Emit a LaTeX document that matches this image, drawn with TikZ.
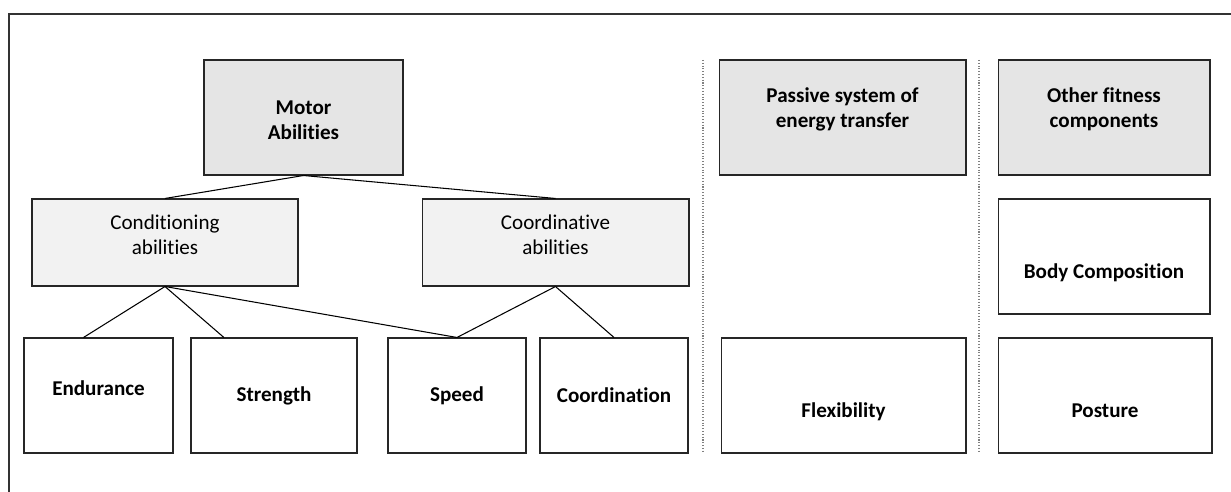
\documentclass[tikz,border=0pt]{standalone}
\usepackage{fontspec}
\setmainfont{Carlito}[Ligatures=NoCommon]
\usepackage{tikz}
\usetikzlibrary{calc}

\begin{document}
\begin{tikzpicture}[x=0.02cm,y=-0.02cm,line width=0.6pt,
  box/.style={draw=black!85, inner sep=0pt, align=center, font=\fontsize{12}{14.4}\selectfont\bfseries},
  tall/.style={box, minimum height=2.3cm},
  head/.style={tall, fill=gray!20},
  sub/.style={box, fill=gray!10, minimum height=1.74cm, font=\fontsize{12}{14.4}\selectfont},
  low/.style={text height=25pt, text depth=0pt},
  flat/.style={text height=0pt, text depth=0pt},
  lift/.style={text height=23pt, text depth=#1}]
\useasboundingbox (0,0) rectangle (1231,492);
\draw[black!80] (9,492) -- (9,14) -- (1231,14);

  \node[head, minimum width=3.98cm, low]     (MA) at (303.5,117.5) {Motor\\Abilities};
  \node[sub, minimum width=5.32cm, lift=8.8pt] (CD) at (165,242.5)  {Conditioning\\abilities};
  \node[sub, minimum width=5.34cm, lift=8.8pt] (CO) at (555.5,242.5) {Coordinative\\abilities};
  \node[tall, minimum width=2.98cm, flat]    (EN) at (98.5,395.5)  {Endurance};
  \node[tall, minimum width=3.32cm]          (ST) at (274,395.5)   {Strength};
  \node[tall, minimum width=2.76cm]          (SP) at (457,395.5)   {Speed};
  \node[tall, minimum width=2.96cm]          (CR) at (614,395.5)   {Coordination};

  \node[head, minimum width=4.94cm, lift=11.4pt] (PS) at (842.5,117.5) {Passive system of\\energy transfer};
  \node[tall, minimum width=4.9cm, low]      (FL) at (843.5,395.5) {Flexibility};

  \node[head, minimum width=4.24cm, lift=11.4pt] (OF) at (1104,117.5) {Other fitness\\components};
  \node[tall, minimum width=4.24cm, low]     (BC) at (1104,256.5)  {Body Composition};
  \node[tall, minimum width=4.28cm, low]     (PO) at (1105,395.5)  {Posture};

  % separators
  \coordinate (S1) at (703,60);  \coordinate (S1b) at (703,452);
  \coordinate (S2) at (979,60);  \coordinate (S2b) at (979,452);
  \draw[gray, densely dotted] (S1) -- (S1b);
  \draw[gray, densely dotted] (S2) -- (S2b);

  \path[-]
		(MA.south) edge (CD.north)
		(MA.south) edge (CO.north)
		(CD.south) edge ($(EN.north west)!0.4!(EN.north east)$)
		(CD.south) edge ($(ST.north west)!0.2!(ST.north east)$)
		(CD.south) edge (SP.north)
		(CO.south) edge (SP.north)
		(CO.south) edge (CR.north);
\end{tikzpicture}
\end{document}
